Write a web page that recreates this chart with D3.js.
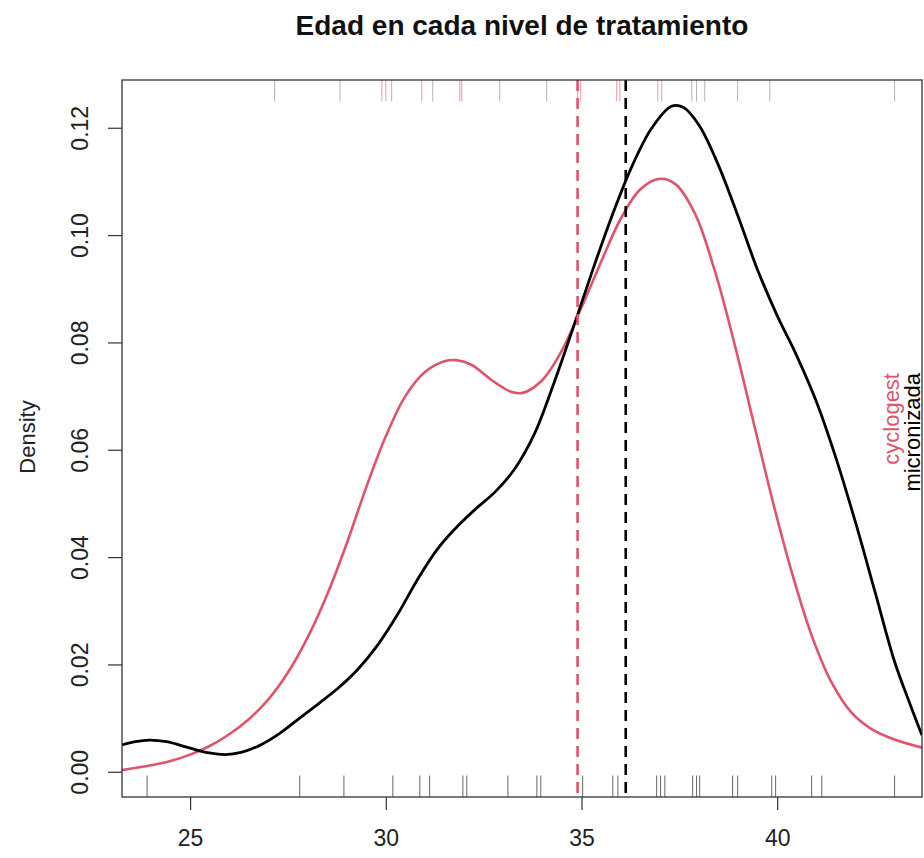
<!DOCTYPE html>
<html>
<head>
<meta charset="utf-8">
<script src="https://cdn.jsdelivr.net/npm/d3@7"></script>
<style>
html,body{margin:0;padding:0;background:#fff;}
text{font-family:"Liberation Sans",Arial,Helvetica,sans-serif;}
</style>
</head>
<body>
<svg id="chart" width="924" height="858"></svg>
<script>
// ---- data ----
const title = "Edad en cada nivel de tratamiento";
const yLabel = "Density";
const groups = ["cyclogest", "micronizada"];
const groupColors = ["#DF536B", "#000000"];
const xTicks = [25, 30, 35, 40];
const yTicks = [0, 0.02, 0.04, 0.06, 0.08, 0.10, 0.12];

// density curve of micronizada (age, density)
const microX = [23.26,23.6,23.95,24.4,25.0,25.5,25.9,26.3,26.8,27.3,27.8,28.3,28.8,29.3,29.8,30.3,30.8,31.3,31.8,32.3,32.8,33.3,33.8,34.3,34.8,35.3,35.8,36.3,36.8,37.3,37.6,38.0,38.5,39.0,39.5,40.0,40.5,41.0,41.5,42.0,42.5,43.0,43.4,43.7];
const microY = [0.0050,0.0056,0.0059,0.0056,0.0044,0.0035,0.0032,0.0036,0.0050,0.0072,0.0100,0.0128,0.0157,0.0192,0.0237,0.0293,0.0357,0.0413,0.0455,0.0490,0.0522,0.0565,0.0630,0.0725,0.0830,0.0938,0.1040,0.1130,0.1200,0.1240,0.1238,0.1205,0.1130,0.1035,0.0935,0.0850,0.0775,0.0690,0.0585,0.0465,0.0335,0.0205,0.0125,0.0068];
// density curve of cyclogest
const cycloX = [23.26,24.0,24.5,25.0,25.5,26.0,26.5,27.0,27.5,28.0,28.5,29.0,29.5,30.0,30.5,31.0,31.5,31.8,32.2,32.7,33.2,33.5,34.0,34.5,35.0,35.5,36.0,36.5,37.0,37.4,37.9,38.4,38.9,39.4,39.9,40.4,40.9,41.4,41.9,42.4,43.0,43.7];
const cycloY = [0.0003,0.0012,0.0020,0.0032,0.0048,0.0070,0.0098,0.0135,0.0185,0.0250,0.0330,0.0425,0.0530,0.0625,0.0700,0.0745,0.0765,0.0767,0.0758,0.0730,0.0708,0.0706,0.0730,0.0785,0.0865,0.0950,0.1030,0.1085,0.1105,0.1095,0.1040,0.0935,0.0800,0.0650,0.0500,0.0365,0.0250,0.0165,0.0110,0.0080,0.0060,0.0045];
// group means
const means = [34.90, 36.13];
// rug marks
const rugBottom = [23.90,27.80,28.93,30.18,30.87,31.12,31.97,32.07,33.12,33.86,33.96,35.03,35.80,35.93,36.92,37.02,37.13,37.84,37.94,38.02,38.86,38.99,39.86,39.96,40.88,41.14,43.0];
const rugTopRed = [29.90,30.00,30.15,30.92,31.89,31.94,32.91,34.90,34.98,35.90,35.98,36.95,37.05,38.99];
const rugTopGray = [27.16,28.83,31.20,34.11,37.82,37.94,38.15,39.81,43.0];

// ---- layout ----
const svg = d3.select("#chart");
const L = 122, R = 922, T = 80, B = 797;
const x = d3.scaleLinear().domain([23.26, 43.70]).range([L, R]);
const y = d3.scaleLinear().domain([-0.0047, 0.1289]).range([B, T]);
const rugLen = 21.5;

svg.append("defs").append("clipPath").attr("id","clip")
  .append("rect").attr("x",L).attr("y",T).attr("width",R-L).attr("height",B-T);

const plot = svg.append("g").attr("clip-path","url(#clip)");

// rugs
plot.selectAll(".rb").data(rugBottom).enter().append("line")
  .attr("x1",d=>x(d)).attr("x2",d=>x(d)).attr("y1",B).attr("y2",B-rugLen)
  .attr("stroke","#000").attr("stroke-opacity",0.6).attr("stroke-width",1);
plot.selectAll(".rtg").data(rugTopGray).enter().append("line")
  .attr("x1",d=>x(d)).attr("x2",d=>x(d)).attr("y1",T).attr("y2",T+rugLen)
  .attr("stroke","#000").attr("stroke-opacity",0.3).attr("stroke-width",1);
plot.selectAll(".rtr").data(rugTopRed).enter().append("line")
  .attr("x1",d=>x(d)).attr("x2",d=>x(d)).attr("y1",T).attr("y2",T+rugLen)
  .attr("stroke","#DF536B").attr("stroke-opacity",0.6).attr("stroke-width",1);

// curves
const line = d3.line().x(d=>x(d[0])).y(d=>y(d[1])).curve(d3.curveCatmullRom.alpha(0.5));
const cyclo = cycloX.map((v,i)=>[v,cycloY[i]]);
const micro = microX.map((v,i)=>[v,microY[i]]);
plot.append("path").datum(cyclo).attr("d",line).attr("fill","none")
  .attr("stroke",groupColors[0]).attr("stroke-width",2.6);
plot.append("path").datum(micro).attr("d",line).attr("fill","none")
  .attr("stroke",groupColors[1]).attr("stroke-width",2.8);

// mean lines
plot.selectAll(".mean").data(means).enter().append("line")
  .attr("x1",d=>x(d)).attr("x2",d=>x(d)).attr("y1",T).attr("y2",B)
  .attr("stroke",(d,i)=>groupColors[i]).attr("stroke-width",2.6)
  .attr("stroke-dasharray","11,7");

// box
svg.append("rect").attr("x",L).attr("y",T).attr("width",R-L).attr("height",B-T)
  .attr("fill","none").attr("stroke","#333").attr("stroke-width",1.3);

// x axis
const xAxis = svg.append("g").attr("transform",`translate(0,${B})`)
  .call(d3.axisBottom(x).tickValues(xTicks).tickSize(13).tickPadding(8).tickFormat(d3.format("d")));
xAxis.select(".domain").remove();
xAxis.selectAll(".tick line").attr("stroke","#333").attr("stroke-width",1.2);
xAxis.selectAll("text").attr("font-size",23).attr("fill","#222").attr("dy",0).attr("y",49);

// y axis
const yAxis = svg.append("g").attr("transform",`translate(${L},0)`)
  .call(d3.axisLeft(y).tickValues(yTicks).tickSize(14).tickFormat(d3.format(".2f")));
yAxis.select(".domain").remove();
yAxis.selectAll(".tick line").attr("stroke","#333").attr("stroke-width",1.2);
yAxis.selectAll("text").attr("font-size",23).attr("fill","#222")
  .attr("transform","rotate(-90)").attr("x",0).attr("y",-34).attr("dy",0)
  .attr("text-anchor","middle");

// y label
svg.append("text").attr("transform",`translate(35,437) rotate(-90)`)
  .attr("text-anchor","middle").attr("font-size",22).attr("fill","#222").text(yLabel);

// title
svg.append("text").attr("x",(L+R)/2).attr("y",35).attr("text-anchor","middle")
  .attr("font-size",28).attr("font-weight","bold").attr("fill","#111").text(title);

// group labels on right
const gx = [899, 920];
groups.forEach((g,i)=>{
  svg.append("text").attr("transform",`translate(${gx[i]},373) rotate(-90)`)
    .attr("text-anchor","end").attr("font-size",22).attr("fill",groupColors[i]).text(g);
});
</script>
</body>
</html>
